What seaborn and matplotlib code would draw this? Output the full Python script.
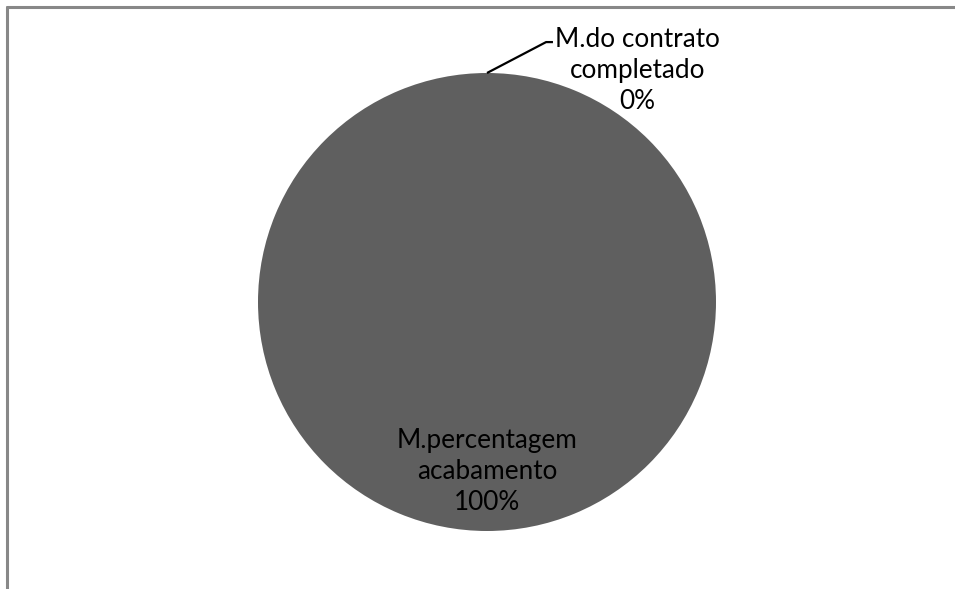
import numpy as np
import matplotlib
matplotlib.use("Agg")
import matplotlib.pyplot as plt
import seaborn as sns
from matplotlib.lines import Line2D

categories = ["M.do contrato\ncompletado", "M.percentagem\nacabamento"]
values = [0, 100]
pct_labels = ["0%", "100%"]

sns.set_theme(style="white")
plt.rcParams["font.family"] = ["Lato", "DejaVu Sans"]

W, H, dpi = 955, 589, 100
fig = plt.figure(figsize=(W / dpi, H / dpi), dpi=dpi)
fig.patch.set_facecolor("white")

cx, cy, R = 487, 302, 229
ax = fig.add_axes([0, 0, 1, 1])
ax.axis("off")

wedges, _ = ax.pie(values, colors=["#5f5f5f", "#5f5f5f"], startangle=90,
                   counterclock=False, radius=1.0,
                   wedgeprops=dict(linewidth=0))
ax.set_aspect("equal")
ax.set_xlim(-cx / R, (W - cx) / R)
ax.set_ylim(-(H - cy) / R, cy / R)

FS = 18.8
total = sum(values)
start = 90.0
for i, (cat, v, p) in enumerate(zip(categories, values, pct_labels)):
    sweep = 360.0 * v / total
    mid = np.deg2rad(start - sweep / 2)
    start -= sweep
    text = f"{cat}\n{p}"
    if v == 0:
        x0, y0 = np.cos(mid), np.sin(mid)
        ax.plot([x0, 0.258, 0.288], [y0, 1.135, 1.135], color="black", lw=1.6,
                solid_capstyle="butt")
        ax.text(0.657, 1.009, text, ha="center", va="center", fontsize=FS,
                color="black", linespacing=1.3)
    else:
        ax.text(0.0, -0.738, text, ha="center", va="center", fontsize=FS,
                color="black", linespacing=1.3)

# chart border (top and left)
fig.add_artist(Line2D([7 / W, 1], [1 - 7 / H, 1 - 7 / H], color="#888888", lw=2.2,
                      transform=fig.transFigure))
fig.add_artist(Line2D([7 / W, 7 / W], [0, 1 - 7 / H], color="#888888", lw=2.2,
                      transform=fig.transFigure))

fig.savefig("out.png", dpi=dpi, facecolor="white")
